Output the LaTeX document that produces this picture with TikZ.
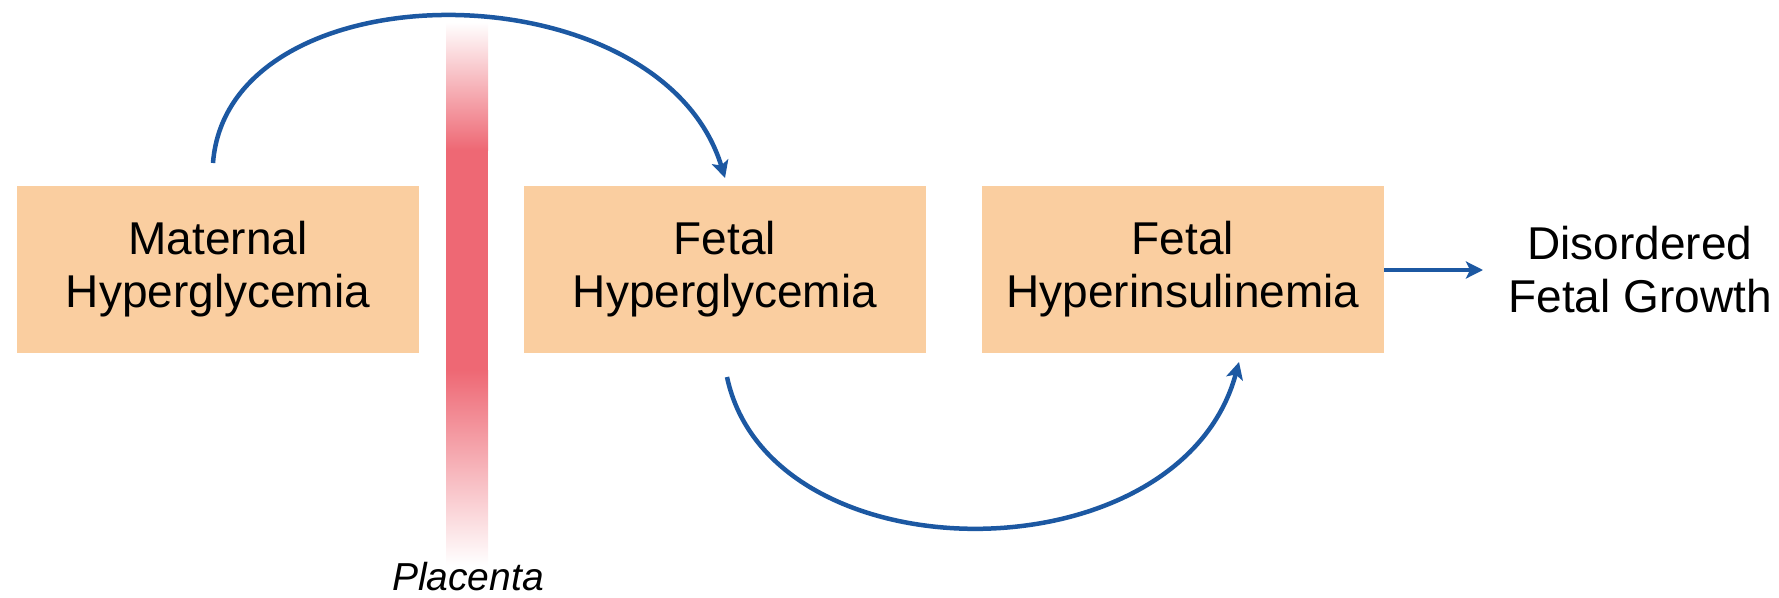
\documentclass[tikz,border=0pt]{standalone}
\usepackage{fontspec}
\setmainfont{Liberation Sans}
\usetikzlibrary{arrows.meta}
\definecolor{boxfill}{RGB}{250,206,160}
\definecolor{arrowblue}{RGB}{28,88,162}
\definecolor{placred}{RGB}{238,104,116}
\tikzset{
  stagebox/.style={fill=boxfill, draw=none, minimum width=402pt, minimum height=167pt,
    align=center, font=\fontsize{46}{53}\selectfont, inner sep=0pt},
  plaintext/.style={align=center, font=\fontsize{46}{53}\selectfont, inner sep=0pt},
  flow/.style={draw=arrowblue, line width=4.5pt,
    -{Stealth[length=17pt,width=17pt,inset=4pt]}},
}
\begin{document}
\begin{tikzpicture}[x=1pt,y=-1pt]
\useasboundingbox (0,0) rectangle (1779,597);
% placenta bar
\shade[top color=white, bottom color=placred, draw=none] (446,22) rectangle (488,150);
\fill[placred] (446,149.5) rectangle (488,370.5);
\shade[top color=placred, bottom color=white, draw=none] (446,370) rectangle (488,565);
\node[font=\fontsize{39}{44}\selectfont\itshape, anchor=base, inner sep=0pt] (plac) at (468,590) {Placenta};
% boxes
\node[stagebox] (b1) at (218,269.5) {Maternal\\Hyperglycemia};
\node[stagebox] (b2) at (725,269.5) {Fetal\\Hyperglycemia};
\node[stagebox] (b3) at (1183,269.5) {Fetal\\Hyperinsulinemia};
\node[plaintext] (dis) at (1640,269.5) {Disordered\\Fetal Growth};
% connector end points
\coordinate (t0) at (213,163);
\coordinate (t1) at (725,178);
\coordinate (u0) at (727,377);
\coordinate (u1) at (1239,362);
\coordinate (r1) at (1483,270);
% connectors
\draw[flow] (t0) .. controls (228,-35) and (660,-35) .. (t1);
\draw[flow] (u0) .. controls (770,580) and (1180,580) .. (u1);
\draw[flow] (b3.east |- r1) -- (r1);
\end{tikzpicture}
\end{document}
